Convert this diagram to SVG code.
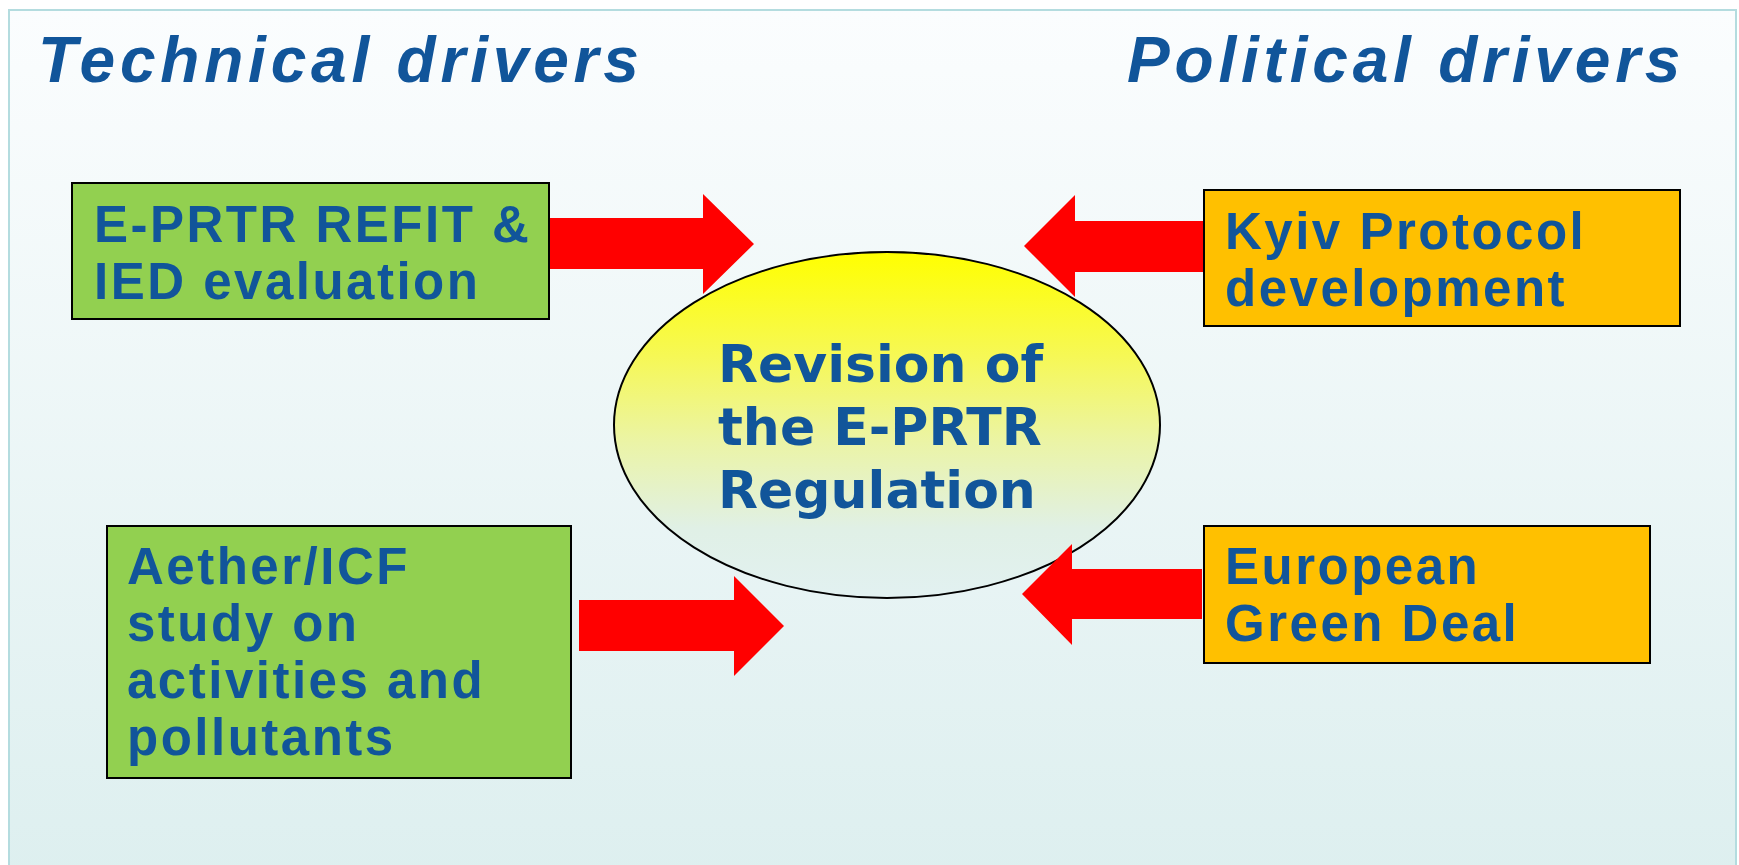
<svg xmlns="http://www.w3.org/2000/svg" width="1739" height="865" viewBox="0 0 1739 865">
  <defs>
    <linearGradient id="bg" x1="0" y1="0" x2="0" y2="1">
      <stop offset="0" stop-color="#FBFDFE"/>
      <stop offset="1" stop-color="#DDEFEF"/>
    </linearGradient>
    <linearGradient id="ell" x1="0" y1="0" x2="0" y2="1">
      <stop offset="0" stop-color="#FFFF00"/>
      <stop offset="0.3" stop-color="#F6F855"/>
      <stop offset="0.55" stop-color="#EBF4A6"/>
      <stop offset="0.8" stop-color="#E0F0E6"/>
      <stop offset="1" stop-color="#E2F1F1"/>
    </linearGradient>
    <style>
      .title { font-family: "Liberation Sans", Arial, sans-serif; font-weight: bold; font-style: italic; font-size: 64px; fill: #11559A; letter-spacing: 4.8px; }
      .box { stroke: #000; stroke-width: 2; }
      .green { fill: #92D050; }
      .orange { fill: #FFC000; }
      .btxt { font-family: "Liberation Sans", Arial, sans-serif; font-weight: bold; font-size: 51px; fill: #11559A; letter-spacing: 2.5px; }
      .etxt { font-family: "DejaVu Sans", Verdana, sans-serif; font-weight: bold; font-size: 52px; fill: #11559A; }
      .arrow { fill: #FF0000; }
    </style>
  </defs>
  <rect x="0" y="0" width="1739" height="865" fill="#FFFFFF"/>
  <rect x="9" y="10" width="1727" height="870" fill="url(#bg)" stroke="#B4DCDF" stroke-width="2"/>

  <g id="title-technical">
    <text class="title" x="38" y="82">Technical drivers</text>
  </g>
  <g id="title-political">
    <text class="title" x="1127" y="82">Political drivers</text>
  </g>

  <g id="center">
    <ellipse cx="887" cy="425" rx="273" ry="173" fill="url(#ell)" stroke="#000" stroke-width="2"/>
    <text class="etxt" x="718" y="382">Revision of</text>
    <text class="etxt" x="718" y="445">the E-PRTR</text>
    <text class="etxt" x="718" y="508">Regulation</text>
  </g>

  <g id="connectors">
    <polygon class="arrow" points="549,218 703,218 703,194 754,244 703,294 703,269 549,269"/>
    <polygon class="arrow" points="579,600 734,600 734,576 784,626 734,676 734,651 579,651"/>
    <polygon class="arrow" points="1204,221 1075,221 1075,195 1024,246 1075,297 1075,272 1204,272"/>
    <polygon class="arrow" points="1202,569 1072,569 1072,544 1022,594 1072,645 1072,619 1202,619"/>
  </g>

  <g id="node-refit">
    <rect class="box green" x="72" y="183" width="477" height="136"/>
    <text class="btxt" x="94" y="242">E-PRTR REFIT &amp;</text>
    <text class="btxt" x="94" y="299">IED evaluation</text>
  </g>

  <g id="node-aether">
    <rect class="box green" x="107" y="526" width="464" height="252"/>
    <text class="btxt" x="127" y="584">Aether/ICF</text>
    <text class="btxt" x="127" y="641">study on</text>
    <text class="btxt" x="127" y="698">activities and</text>
    <text class="btxt" x="127" y="755">pollutants</text>
  </g>

  <g id="node-kyiv">
    <rect class="box orange" x="1204" y="190" width="476" height="136"/>
    <text class="btxt" x="1225" y="249">Kyiv Protocol</text>
    <text class="btxt" x="1225" y="306">development</text>
  </g>

  <g id="node-greendeal">
    <rect class="box orange" x="1204" y="526" width="446" height="137"/>
    <text class="btxt" x="1225" y="584">European</text>
    <text class="btxt" x="1225" y="641">Green Deal</text>
  </g>
</svg>
